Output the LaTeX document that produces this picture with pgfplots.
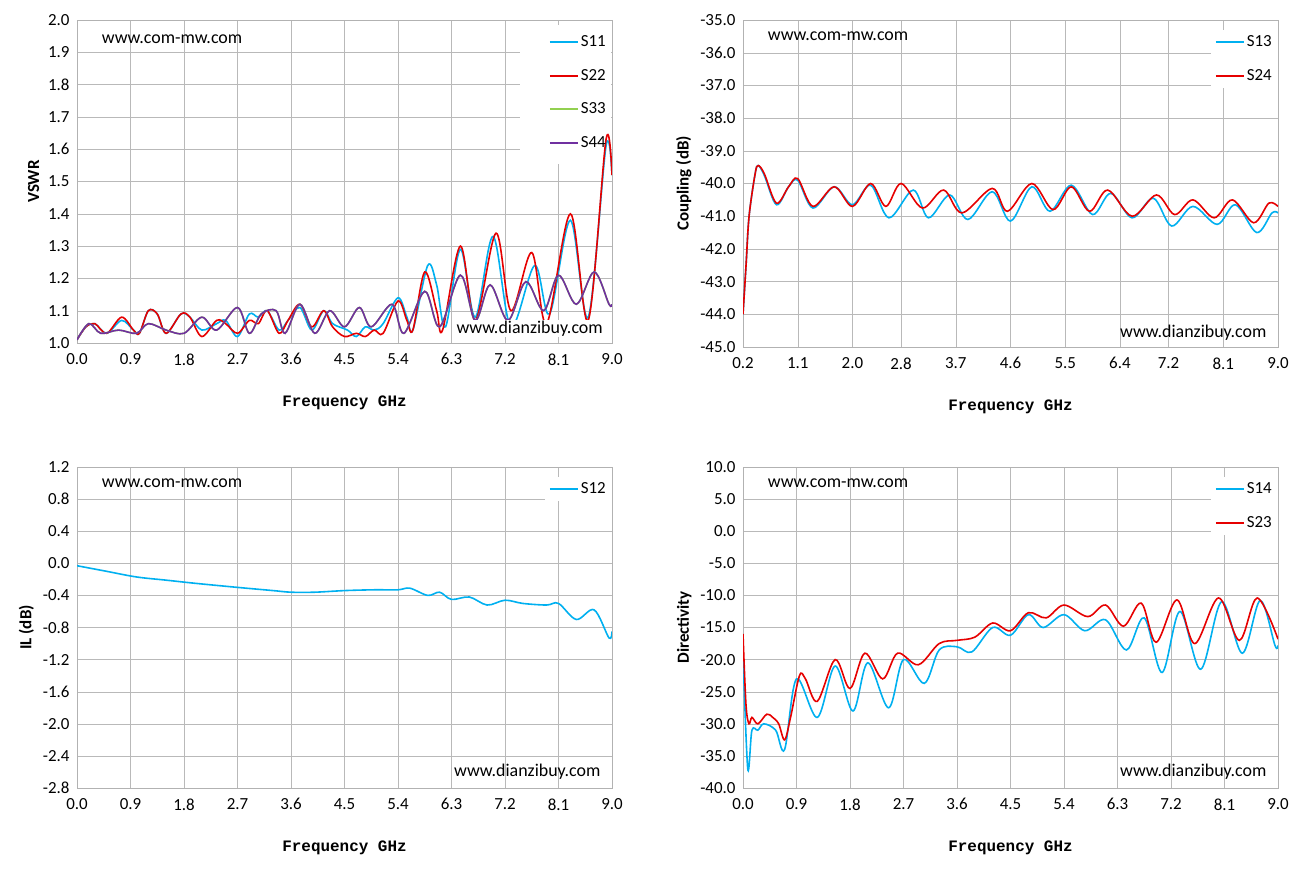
\documentclass[border=0pt]{standalone}
\usepackage{pgfplots}
\pgfplotsset{compat=1.18}
\usepackage{fontspec}
\setmainfont{Carlito}
\newfontfamily\monob{Liberation Mono}
\definecolor{cb}{HTML}{00B0F0}
\definecolor{cr}{HTML}{E60000}
\definecolor{cg}{HTML}{92D050}
\definecolor{cp}{HTML}{7030A0}
\tikzset{wm/.style={font=\fontsize{18}{21}\selectfont}}
\pgfplotsset{
 base/.style={scale only axis, width=535bp, height=323bp, anchor=south west,
  grid=major, major grid style={gray!55}, axis line style={gray!60},
  tick style={draw=none}, tick align=inside,
  ticklabel style={font=\fontsize{17}{20}\selectfont},
  xticklabel style={yshift=-7bp},
  yticklabel style={xshift=-4bp},
  /pgf/number format/assume math mode=true,
  /pgf/number format/.cd, fixed, fixed zerofill, precision=1, /pgfplots/.cd,
  xlabel style={font=\monob\bfseries\fontsize{16}{18}\selectfont, yshift=-24bp},
  ylabel style={font=\bfseries\fontsize{17}{20}\selectfont, yshift=2bp},
  legend cell align=left,
  legend style={draw=none, fill=white, font=\fontsize{17}{20}\selectfont, row sep=17bp, at={(1,0.97)}, anchor=north east, inner sep=4bp},
  legend image code/.code={\draw[#1, sharp plot, line width=2bp] (0bp,0bp) -- (28bp,0bp);},
  every axis plot/.append style={line width=1.6bp, smooth, tension=0.55},
 }}
\begin{document}
\begin{tikzpicture}
\useasboundingbox (0bp,0bp) rectangle (1305bp,-871bp);
% Top-left VSWR
\begin{axis}[base, at={(77bp,-343bp)}, xmin=0, xmax=9, ymin=1, ymax=2, xtick={0,0.9,1.8,2.7,3.6,4.5,5.4,6.3,7.2,8.1,9.0}, ytick={1,1.1,1.2,1.3,1.4,1.5,1.6,1.7,1.8,1.9,2.0},
 xlabel={Frequency GHz}, ylabel={VSWR}, legend style={fill=none}]
\fill[white] (axis cs:7.45,1.555) rectangle (axis cs:8.98,1.985);
\addplot[cb] coordinates {(0,1.01)(0.15,1.05)(0.3,1.06)(0.5,1.03)(0.75,1.07)(0.95,1.04)(1.05,1.03)(1.2,1.10)(1.35,1.09)(1.5,1.03)(1.75,1.09)(1.9,1.08)(2.1,1.04)(2.35,1.06)(2.5,1.07)(2.7,1.02)(2.9,1.09)(3.05,1.08)(3.2,1.1)(3.4,1.04)(3.55,1.07)(3.75,1.11)(3.95,1.04)(4.15,1.10)(4.3,1.06)(4.55,1.04)(4.7,1.02)(4.85,1.05)(5.0,1.04)(5.15,1.06)(5.4,1.14)(5.55,1.08)(5.65,1.04)(5.9,1.24)(6.05,1.18)(6.2,1.05)(6.45,1.29)(6.7,1.08)(7.0,1.33)(7.3,1.05)(7.7,1.24)(7.95,1.09)(8.3,1.38)(8.6,1.08)(8.9,1.61)(9.0,1.52)};
\addlegendentry{S11}
\addplot[cr] coordinates {(0,1.01)(0.15,1.05)(0.3,1.06)(0.5,1.03)(0.75,1.08)(0.95,1.04)(1.05,1.03)(1.2,1.10)(1.35,1.09)(1.5,1.03)(1.75,1.09)(1.9,1.08)(2.1,1.02)(2.35,1.07)(2.5,1.06)(2.7,1.03)(2.9,1.07)(3.05,1.06)(3.2,1.1)(3.4,1.03)(3.55,1.07)(3.75,1.12)(3.95,1.05)(4.15,1.10)(4.3,1.05)(4.5,1.02)(4.7,1.03)(4.85,1.02)(5.0,1.04)(5.15,1.03)(5.4,1.13)(5.55,1.07)(5.65,1.04)(5.85,1.22)(6.05,1.10)(6.15,1.04)(6.45,1.30)(6.7,1.07)(7.05,1.34)(7.3,1.10)(7.65,1.28)(7.9,1.06)(8.3,1.40)(8.6,1.07)(8.9,1.63)(9.0,1.52)};
\addlegendentry{S22}
\addplot[cg] coordinates {(0,1.01)(0.2,1.06)(0.4,1.03)(0.7,1.04)(1.0,1.03)(1.2,1.06)(1.5,1.04)(1.8,1.03)(2.1,1.08)(2.35,1.04)(2.7,1.11)(2.9,1.03)(3.1,1.09)(3.35,1.10)(3.5,1.03)(3.75,1.12)(4.0,1.03)(4.25,1.10)(4.5,1.05)(4.75,1.11)(4.95,1.05)(5.3,1.12)(5.5,1.03)(5.85,1.16)(6.1,1.05)(6.45,1.21)(6.7,1.07)(6.95,1.18)(7.25,1.07)(7.55,1.19)(7.85,1.10)(8.1,1.21)(8.4,1.12)(8.7,1.22)(8.95,1.12)(9,1.12)};
\addlegendentry{S33}
\addplot[cp] coordinates {(0,1.01)(0.2,1.06)(0.4,1.03)(0.7,1.04)(1.0,1.03)(1.2,1.06)(1.5,1.04)(1.8,1.03)(2.1,1.08)(2.35,1.04)(2.7,1.11)(2.9,1.03)(3.1,1.09)(3.35,1.10)(3.5,1.03)(3.75,1.12)(4.0,1.03)(4.25,1.10)(4.5,1.05)(4.75,1.11)(4.95,1.05)(5.3,1.12)(5.5,1.03)(5.85,1.16)(6.1,1.05)(6.45,1.21)(6.7,1.07)(6.95,1.18)(7.25,1.07)(7.55,1.19)(7.85,1.10)(8.1,1.21)(8.4,1.12)(8.7,1.22)(8.95,1.12)(9,1.12)};
\addlegendentry{S44}
\node[anchor=west, wm] at (rel axis cs:0.04,0.94) {www.com-mw.com};
\node[anchor=east, wm, fill=white, inner sep=1bp] at (rel axis cs:0.985,0.045) {www.dianzibuy.com};
\end{axis}
% Top-right Coupling
\begin{axis}[base, at={(743bp,-347bp)}, height=327bp, xmin=0.2, xmax=9, ymin=-45, ymax=-35, xtick={0.2,1.1,2.0,2.8,3.7,4.6,5.5,6.4,7.2,8.1,9.0}, ytick={-45,-44,-43,-42,-41,-40,-39,-38,-37,-36,-35},
 xlabel={Frequency GHz}, ylabel={Coupling (dB)}]
\addplot[cb] coordinates {(0.2,-44)(0.25,-42.5)(0.3,-41)(0.4,-39.7)(0.45,-39.45)(0.55,-39.75)(0.75,-40.65)(0.95,-40.1)(1.1,-39.9)(1.35,-40.75)(1.7,-40.1)(2.0,-40.65)(2.3,-40.05)(2.6,-41.05)(3.0,-40.2)(3.25,-41.05)(3.6,-40.35)(3.9,-41.1)(4.3,-40.25)(4.6,-41.15)(4.95,-40.1)(5.25,-40.85)(5.6,-40.05)(5.95,-40.95)(6.25,-40.3)(6.6,-41.05)(6.95,-40.45)(7.25,-41.3)(7.6,-40.7)(8.0,-41.25)(8.3,-40.65)(8.65,-41.5)(8.9,-40.9)(9,-40.9)};
\addlegendentry{S13}
\addplot[cr] coordinates {(0.2,-44)(0.25,-42.5)(0.3,-41)(0.4,-39.7)(0.45,-39.45)(0.55,-39.7)(0.75,-40.6)(0.95,-40.1)(1.1,-39.85)(1.35,-40.7)(1.7,-40.1)(2.0,-40.7)(2.3,-40.0)(2.55,-40.7)(2.8,-40.0)(3.15,-40.75)(3.5,-40.2)(3.8,-40.9)(4.3,-40.15)(4.55,-40.85)(4.95,-40.0)(5.3,-40.8)(5.6,-40.1)(5.9,-40.85)(6.2,-40.2)(6.6,-41.0)(7.0,-40.35)(7.3,-40.95)(7.6,-40.5)(7.95,-41.05)(8.25,-40.5)(8.6,-41.2)(8.85,-40.6)(9,-40.7)};
\addlegendentry{S24}
\node[anchor=west, wm] at (rel axis cs:0.04,0.95) {www.com-mw.com};
\node[anchor=east, wm] at (rel axis cs:0.985,0.045) {www.dianzibuy.com};
\end{axis}
% Bottom-left IL
\begin{axis}[base, at={(77bp,-788bp)}, height=321bp, xmin=0, xmax=9, ymin=-2.8, ymax=1.2, xtick={0,0.9,1.8,2.7,3.6,4.5,5.4,6.3,7.2,8.1,9.0}, ytick={-2.8,-2.4,-2.0,-1.6,-1.2,-0.8,-0.4,0,0.4,0.8,1.2},
 xlabel={Frequency GHz}, ylabel={IL (dB)}]
\addplot[cb] coordinates {(0,-0.03)(0.5,-0.1)(1,-0.17)(1.5,-0.21)(2,-0.25)(2.7,-0.3)(3.3,-0.34)(3.6,-0.36)(4,-0.36)(4.5,-0.34)(5,-0.33)(5.4,-0.33)(5.6,-0.31)(5.9,-0.4)(6.1,-0.36)(6.3,-0.45)(6.6,-0.42)(6.9,-0.52)(7.2,-0.46)(7.5,-0.5)(7.9,-0.52)(8.1,-0.5)(8.4,-0.7)(8.7,-0.58)(8.95,-0.93)(9,-0.85)};
\addlegendentry{S12}
\node[anchor=west, wm] at (rel axis cs:0.04,0.95) {www.com-mw.com};
\node[anchor=east, wm] at (rel axis cs:0.985,0.05) {www.dianzibuy.com};
\end{axis}
% Bottom-right Directivity
\begin{axis}[base, at={(743bp,-788bp)}, height=321bp, xmin=0, xmax=9, ymin=-40, ymax=10, xtick={0,0.9,1.8,2.7,3.6,4.5,5.4,6.3,7.2,8.1,9.0}, ytick={-40,-35,-30,-25,-20,-15,-10,-5,0,5,10},
 xlabel={Frequency GHz}, ylabel={Directivity}]
\addplot[cb] coordinates {(0,-19)(0.08,-37)(0.15,-31)(0.25,-31)(0.35,-30)(0.55,-31)(0.7,-34)(0.9,-23)(1.25,-29)(1.55,-21)(1.85,-28)(2.1,-20.5)(2.45,-27.5)(2.7,-20)(3.05,-23.7)(3.3,-18.5)(3.6,-18)(3.85,-18.8)(4.2,-15)(4.5,-16.2)(4.8,-13)(5.05,-15)(5.4,-13)(5.75,-15.5)(6.1,-13.8)(6.45,-18.5)(6.75,-13.5)(7.05,-22)(7.35,-12.5)(7.7,-21.5)(8.05,-11)(8.4,-19)(8.7,-10.8)(8.95,-17.8)(9,-17.8)};
\addlegendentry{S14}
\addplot[cr] coordinates {(0,-16)(0.05,-27)(0.1,-30)(0.15,-29)(0.25,-30)(0.4,-28.5)(0.5,-29)(0.6,-30)(0.7,-32.5)(0.8,-29)(0.95,-22.5)(1.05,-23)(1.25,-26.5)(1.55,-20)(1.8,-24.5)(2.05,-19)(2.35,-23)(2.6,-19)(2.95,-20.8)(3.3,-17.5)(3.6,-17)(3.9,-16.5)(4.2,-14.3)(4.5,-15.5)(4.8,-12.7)(5.1,-13.5)(5.4,-11.5)(5.8,-13.3)(6.1,-11.5)(6.4,-14.8)(6.7,-11.2)(6.95,-17.3)(7.3,-10.7)(7.6,-17.5)(8.0,-10.4)(8.35,-17)(8.65,-10.4)(9,-16.8)};
\addlegendentry{S23}
\node[anchor=west, wm] at (rel axis cs:0.04,0.95) {www.com-mw.com};
\node[anchor=east, wm] at (rel axis cs:0.985,0.05) {www.dianzibuy.com};
\end{axis}
\end{tikzpicture}
\end{document}
